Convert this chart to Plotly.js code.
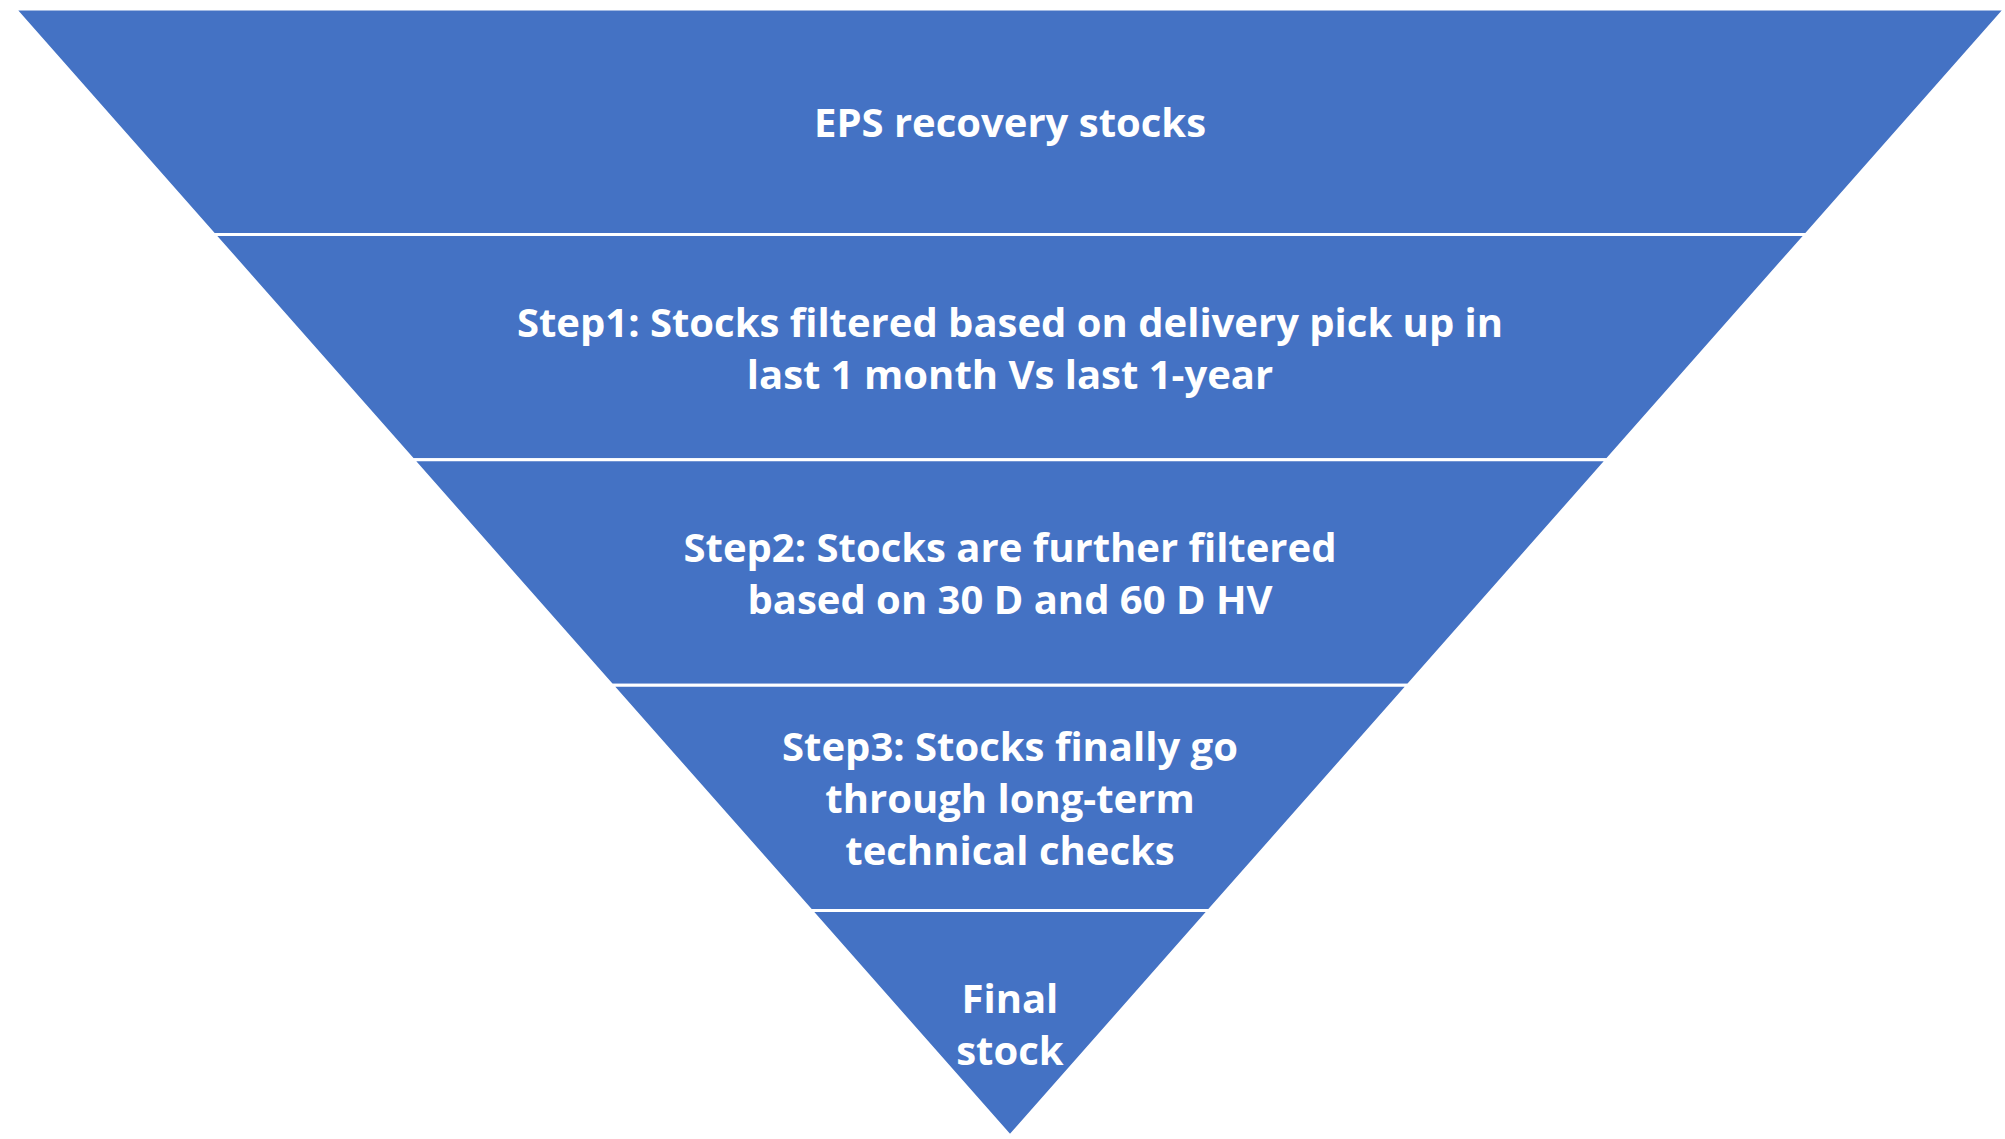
<!DOCTYPE html>
<html>
<head>
<meta charset="utf-8">
<script src="https://cdn.plot.ly/plotly-3.0.1.min.js"></script>
<style>html,body{margin:0;padding:0;background:#fff;}#chart{width:2005px;height:1139px;}</style>
</head>
<body>
<div id="chart"></div>
<script>
// Funnel stages, top to bottom
const stages = [
  "EPS recovery stocks",
  "Step1: Stocks filtered based on delivery pick up in<br>last 1 month Vs last 1-year",
  "Step2: Stocks are further filtered<br>based on 30 D and 60 D HV",
  "Step3: Stocks finally go<br>through long-term<br>technical checks",
  "Final<br>stock"
];
const stageIds = ["EPS", "Step1", "Step2", "Step3", "Final"];
// Relative areas of the slices (equal-height bands of a triangle)
const areas = [9, 7, 5, 3, 1];

const W = 2005, H = 1139;
const trace = {
  type: "funnelarea",
  labels: stageIds,
  values: areas,
  text: stages,
  textinfo: "text",
  textposition: "inside",
  baseratio: 0,
  aspectratio: 1127 / 1990,
  domain: { x: [15 / W, 1], y: [3 / H, 1130 / H] },
  marker: { colors: Array(stageIds.length).fill("#4472C4"), line: { color: "#ffffff", width: 3 } },
  insidetextfont: { family: "'Open Sans', Lato, sans-serif", size: 40, color: "#ffffff", weight: "bold" },
  hoverinfo: "skip",
  showlegend: false
};

const layout = {
  width: W, height: H,
  margin: { l: 0, r: 0, t: 0, b: 0, pad: 0 },
  paper_bgcolor: "#ffffff",
  plot_bgcolor: "#ffffff",
  showlegend: false,
  uniformtext: { mode: "show", minsize: 40 }
};

Plotly.newPlot("chart", [trace], layout, { staticPlot: true, displayModeBar: false });
</script>
</body>
</html>
